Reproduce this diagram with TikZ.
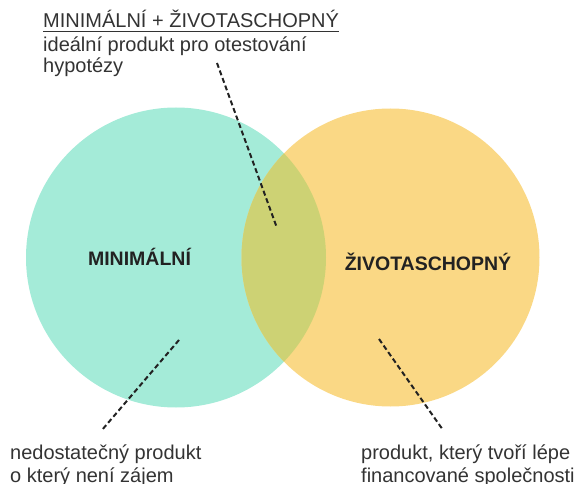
\documentclass[tikz,border=0pt]{standalone}
\usepackage{fontspec}
\setmainfont{Liberation Sans}
\definecolor{mintfill}{HTML}{A4EBD8}
\definecolor{sunfill}{HTML}{FAD885}
\definecolor{mixfill}{HTML}{CDD274}
\definecolor{txt}{HTML}{333333}
\definecolor{ink}{HTML}{222222}
\begin{document}
\begin{tikzpicture}[x=1pt,y=-1pt,
  plain/.style={inner sep=0pt,anchor=base west,text=txt,font=\fontsize{20}{23}\selectfont},
  setlabel/.style={inner sep=0pt,anchor=base,text=ink,font=\fontsize{19.5}{23}\selectfont\bfseries},
  pointer/.style={draw=ink,line width=2pt,dash pattern=on 5pt off 3pt}]
\useasboundingbox (0,0) rectangle (574,484);

% the two sets and their overlap
\fill[mintfill] (176,257.5) circle[radius=150];
\fill[sunfill] (390.5,257.5) circle[radius=149];
\begin{scope}
  \clip (176,257.5) circle[radius=150];
  \fill[mixfill] (390.5,257.5) circle[radius=149];
\end{scope}

% set names
\node[setlabel] (lmin) at (139.5,266) {MINIMÁLNÍ};
\node[setlabel] (lviab) at (428,270.5) {ŽIVOTASCHOPNÝ};

% headline with its underline
\node[plain] (head) at (43,28) {MINIMÁLNÍ + ŽIVOTASCHOPNÝ};
\draw[txt,line width=1.3pt] ([yshift=-3.5pt]head.base west) -- ([yshift=-3.5pt]head.base east);
\node[plain] (ideal1) at (43,51.5) {ideální produkt pro otestování};
\node[plain] (ideal2) at (43,73) {hypotézy};

% captions below the sets
\node[plain] (low1) at (10,460) {nedostatečný produkt};
\node[plain] (low2) at (10,482) {o který není zájem};
\node[plain] (fund1) at (361,460) {produkt, který tvoří lépe};
\node[plain] (fund2) at (361,482) {financované společnosti};

% pointer lines
\coordinate (headtip) at (217,63);
\coordinate (mixpt) at (277,228);
\coordinate (minpt) at (179,340);
\coordinate (lowtip) at (102,430);
\coordinate (viabpt) at (379,339);
\coordinate (fundtip) at (443,430);
\draw[pointer] (headtip) -- (mixpt);
\draw[pointer] (minpt) -- (lowtip);
\draw[pointer] (viabpt) -- (fundtip);
\end{tikzpicture}
\end{document}
